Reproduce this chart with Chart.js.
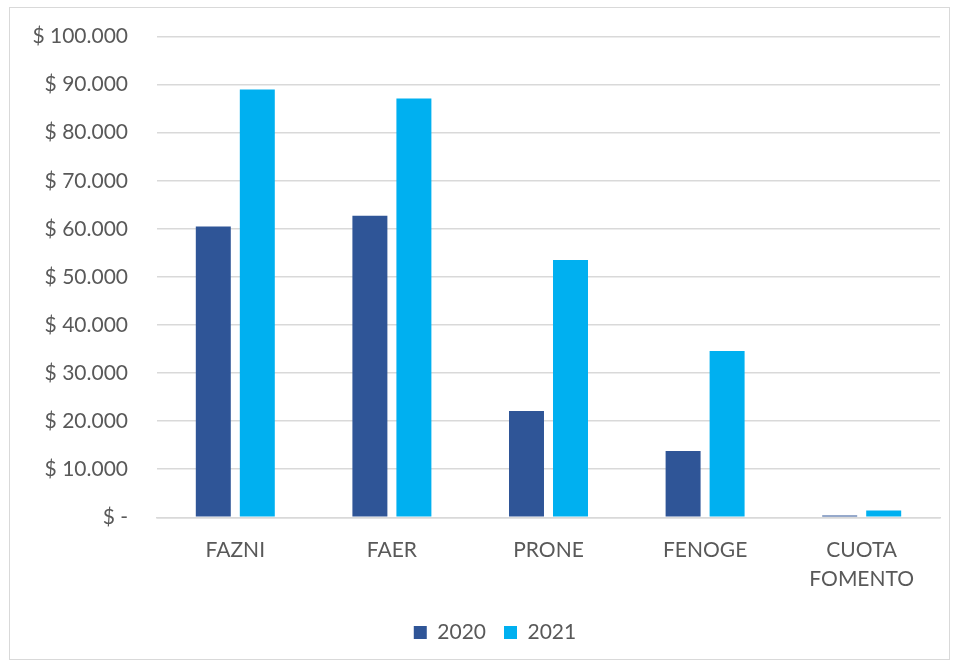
<!DOCTYPE html>
<html>
<head>
<meta charset="utf-8">
<script src="https://cdn.jsdelivr.net/npm/chart.js@4"></script>
<style>
  body { margin: 0; background: #fff; }
  #frame {
    position: absolute; left: 9px; top: 7px;
    width: 939px; height: 651px;
    border: 1.5px solid #d9d9d9;
  }
</style>
</head>
<body>
<div id="frame"><canvas id="grafico"></canvas></div>
<script>
// Datos del grafico
var categorias = ["FAZNI", "FAER", "PRONE", "FENOGE", ["CUOTA", "FOMENTO"]];
var valores2020 = [60500, 62700, 22100, 13800, 400];
var valores2021 = [89000, 87100, 53500, 34600, 1400];
var series = ["2020", "2021"];

var grisTexto = "#595959";

// desplaza la leyenda un poco a la derecha, como en el original
var moverLeyenda = {
    id: "moverLeyenda",
    afterLayout: function (chart) {
        chart.legend.left += 20;
        chart.legend.right += 20;
    },
};

var ctx = document.getElementById("grafico").getContext("2d");
var miGrafico = new Chart(ctx, {
    type: "bar",
    data: {
        labels: categorias,
        datasets: [
            {
                label: series[0],
                data: valores2020,
                backgroundColor: "#2F5597",
                categoryPercentage: 0.562,
                barPercentage: 0.795,
            },
            {
                label: series[1],
                data: valores2021,
                backgroundColor: "#00B0F0",
                categoryPercentage: 0.562,
                barPercentage: 0.795,
            },
        ],
    },
    plugins: [moverLeyenda],
    options: {
        responsive: true,
        maintainAspectRatio: false,
        animation: false,
        layout: {
            padding: { top: 28.5, right: 9, left: 0, bottom: 6 },
        },
        scales: {
            y: {
                min: 0,
                max: 100000,
                ticks: {
                    stepSize: 10000,
                    color: grisTexto,
                    padding: 0,
                    font: { family: "Lato", size: 21 },
                    callback: function (v) {
                        if (v === 0) return "$ -";
                        return "$ " + v.toLocaleString("de-DE");
                    },
                },
                // marcas invisibles para separar las etiquetas del eje
                grid: {
                    color: "#d9d9d9",
                    lineWidth: 1.5,
                    drawTicks: true,
                    tickLength: 29,
                    tickColor: "rgba(0,0,0,0)",
                },
                border: { display: false },
                afterFit: function (axis) { axis.width = 147; },
            },
            x: {
                ticks: {
                    color: grisTexto,
                    padding: 11,
                    font: { family: "Lato", size: 21, lineHeight: 1.35 },
                    maxRotation: 0,
                },
                grid: { display: false },
                border: { color: "#d9d9d9", width: 1.5 },
            },
        },
        plugins: {
            legend: {
                position: "bottom",
                labels: {
                    color: grisTexto,
                    boxWidth: 13,
                    boxHeight: 13,
                    padding: 18,
                    font: { family: "Lato", size: 21 },
                },
            },
            tooltip: { enabled: false },
        },
    },
});
</script>
</body>
</html>
